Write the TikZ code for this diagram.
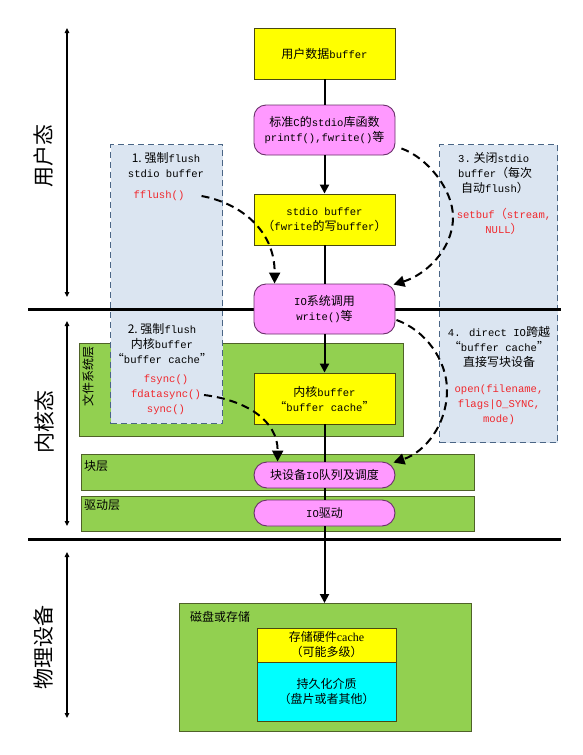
\documentclass[tikz,border=0pt]{standalone}
\usepackage{fontspec}
\setmainfont{Noto Sans CJK SC}
\newfontfamily\monof[Scale=0.88]{Liberation Mono}
\newfontfamily\serf{Liberation Serif}
\usetikzlibrary{arrows.meta}
\newcommand\lm[1]{{\monof #1}}
\definecolor{ylw}{HTML}{FFFF00}
\definecolor{ybord}{HTML}{4A4A10}
\definecolor{pnk}{HTML}{FF99FF}
\definecolor{pbord}{HTML}{6A306A}
\definecolor{grn}{HTML}{92D050}
\definecolor{gbord}{HTML}{4F6228}
\definecolor{blu}{HTML}{DBE5F1}
\definecolor{bbord}{HTML}{4A6585}
\definecolor{cyn}{HTML}{00FFFF}
\definecolor{redc}{HTML}{F0282D}
\begin{document}
\begin{tikzpicture}[x=1pt,y=-1pt,
  txt/.style={font=\fontsize{12}{15}\selectfont, align=center, inner sep=0pt},
  ybox/.style={txt, draw=ybord, fill=ylw, line width=0.9pt, minimum width=141pt, minimum height=51pt},
  pbox/.style={txt, draw=pbord, fill=pnk, rounded corners=12pt, line width=0.9pt, minimum width=141pt, minimum height=50pt},
  pill/.style={pbox, rounded corners=13pt, minimum height=26pt},
  layer/.style={draw=gbord, fill=grn, line width=0.9pt, anchor=north west, inner sep=0pt},
  bluebox/.style={draw=bbord, fill=blu, dash pattern=on 6pt off 4pt, line width=1.2pt, anchor=north west, inner sep=0pt},
  redt/.style={txt, text=redc},
  lab/.style={font=\fontsize{12}{14}\selectfont, inner sep=0pt, anchor=west},
  vlab/.style={font=\fontsize{12}{14}\selectfont, inner sep=0pt, rotate=90},
  side/.style={font=\fontsize{21}{21}\selectfont, rotate=90, inner sep=0pt},
  sep/.style={line width=3pt},
  conn/.style={line width=2pt},
  arr/.style={conn, -{Triangle[length=9pt,width=9pt]}},
  dasharr/.style={line width=2pt, dash pattern=on 8pt off 5pt, -{Triangle[length=11pt,width=11pt]}},
  sidearr/.style={line width=1.2pt, {Triangle[length=5pt,width=4.5pt]}-{Triangle[length=5pt,width=4.5pt]}}
]
\useasboundingbox (0,0) rectangle (583,755);

% layers
\node[layer, minimum width=324pt, minimum height=93pt] (fs) at (79,343) {};
\node[layer, minimum width=393pt, minimum height=36pt] (blk) at (81,454) {};
\node[layer, minimum width=393pt, minimum height=35pt] (drv) at (81,496) {};
\node[layer, minimum width=292pt, minimum height=128pt] (disk) at (179,603) {};

\node[vlab] (fslab) at (88,376) {文件系统层};
\node[lab] (blklab) at (84,466) {块层};
\node[lab] (drvlab) at (84,505) {驱动层};
\node[lab] (disklab) at (190,617) {磁盘或存储};

% blue dashed boxes
\node[bluebox, minimum width=112pt, minimum height=279pt] (lb) at (110,144) {};
\node[bluebox, minimum width=118pt, minimum height=298pt] (rb) at (439,144) {};

\node[txt] (t1) at (166,165.5) {1.~强制\lm{flush}\\\lm{stdio buffer}};
\node[redt] (ff) at (159,196) {\lm{fflush()}};
\node[txt] (t2) at (162,344) {2.~强制\lm{flush}\\内核\lm{buffer}\\“\lm{buffer cache}”};
\node[redt] (fsy) at (166,395) {\lm{fsync()}\\\lm{fdatasync()}\\\lm{sync()}};
\node[txt, align=left, anchor=west] (t3) at (458,173) {\lm{3.}~关闭\lm{stdio}\\\lm{buffer}（每次\\\hspace{3pt}自动\lm{flush}）};
\node[redt] (sb) at (504,221.5) {\lm{setbuf}（\lm{stream,}\\\lm{NULL}）};
\node[txt] (t4) at (499,347) {\lm{4. direct IO}跨越\\“\lm{buffer cache}”\\直接写块设备};
\node[redt] (op) at (499,405) {\lm{open(filename,}\\\lm{flags|O\_SYNC,}\\\lm{mode)}};

% separators
\coordinate (s1a) at (28,309); \coordinate (s1b) at (561,309);
\coordinate (s2a) at (28,539); \coordinate (s2b) at (561,539);
\draw[sep] (s1a) -- (s1b);
\draw[sep] (s2a) -- (s2b);

% side arrows and labels
\coordinate (u1) at (67,28); \coordinate (u2) at (67,297);
\coordinate (k1) at (67,321); \coordinate (k2) at (67,526);
\coordinate (p1) at (67,552); \coordinate (p2) at (67,718);
\draw[sidearr] (u1) -- (u2);
\draw[sidearr] (k1) -- (k2);
\draw[sidearr] (p1) -- (p2);
\node[side] (ulab) at (44,156) {用户态};
\node[side] (klab) at (44,422) {内核态};
\node[side] (plab) at (44,647) {物理设备};

% center nodes
\node[ybox] (n1) at (324.5,53.5) {用户数据\lm{buffer}};
\node[pbox] (n2) at (324.5,130) {标准\lm{C}的\lm{stdio}库函数\\\lm{printf(),fwrite()}等};
\node[ybox] (n3) at (324.5,219.5) {\lm{stdio buffer}\\（\lm{fwrite}的写\lm{buffer}）};
\node[pbox] (n4) at (324.5,309) {\lm{IO}系统调用\\\lm{write()}等};
\node[ybox] (n5) at (324.5,398.5) {内核\lm{buffer}\\“\lm{buffer cache}”};
\node[pill] (n6) at (324.5,475) {块设备\lm{IO}队列及调度};
\node[pill] (n7) at (324.5,513) {\lm{IO}驱动};
\node[txt, draw=ybord, fill=ylw, line width=0.9pt, minimum width=139pt, minimum height=34pt] (cache) at (326.5,645) {存储硬件{\serf cache}\\（可能多级）};
\node[txt, draw=ybord, fill=cyn, line width=0.9pt, minimum width=139pt, minimum height=59pt] (media) at (326.5,691.5) {持久化介质\\（盘片或者其他）};

% center connectors
\draw[conn] (n1) -- (n2);
\draw[arr] (n2) -- (n3);
\draw[conn] (n3) -- (n4);
\draw[arr] (n4) -- (n5);
\draw[conn] (n5) -- (n6);
\draw[conn] (n6) -- (n7);
\draw[arr] (n7.south) -- (n7.south |- disk.north);

% dashed arrows
\draw[dasharr] ([xshift=17pt]ff.east) .. controls (240,203) and (275,230) .. ([xshift=21pt]n4.north west);
\draw[dasharr] ([xshift=6pt,yshift=7pt]n2.south east) .. controls (428,158) and (453,190) .. (453,217) .. controls (453,250) and (425,275) .. ([xshift=-2pt,yshift=-1pt]n4.north east);
\draw[dasharr] ([xshift=3pt]fsy.east) .. controls (245,400) and (278,420) .. ([xshift=24pt]n6.north west);
\draw[dasharr] ([xshift=1pt,yshift=-11pt]n4.east) .. controls (425,330) and (447,360) .. (447,390) .. controls (447,425) and (425,452) .. ([xshift=-2pt,yshift=-1pt]n6.north east);
\end{tikzpicture}
\end{document}
